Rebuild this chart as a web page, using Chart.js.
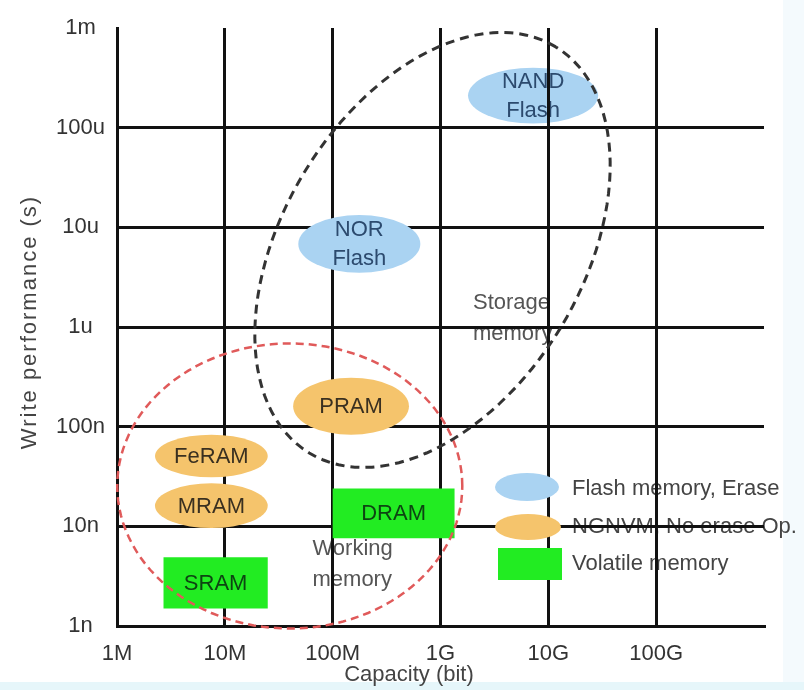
<!DOCTYPE html>
<html>
<head>
<meta charset="utf-8">
<script src="https://cdn.jsdelivr.net/npm/chart.js@4.4.1/dist/chart.umd.min.js"></script>
<style>
  html, body { margin: 0; padding: 0; background: #fff; }
</style>
</head>
<body>
<canvas id="c" width="804" height="690"></canvas>
<script>
const xTicks = [1e6, 1e7, 1e8, 1e9, 1e10, 1e11];
const xTickLabels = ['1M', '10M', '100M', '1G', '10G', '100G'];
const yTicks = [1e-9, 1e-8, 1e-7, 1e-6, 1e-5, 1e-4, 1e-3];
const yTickLabels = ['1n', '10n', '100n', '1u', '10u', '100u', '1m'];

// memory types: capacity range (bit) and write time range (s)
const memNames = ['NAND\nFlash', 'NOR\nFlash', 'PRAM', 'FeRAM', 'MRAM', 'DRAM', 'SRAM'];
const memKind = ['flash', 'flash', 'ngnvm', 'ngnvm', 'ngnvm', 'volatile', 'volatile'];
const capLo = [1.8e9, 4.8e7, 4.3e7, 2.25e6, 2.25e6, 1e8, 2.7e6];
const capHi = [2.9e10, 6.5e8, 5.1e8, 2.5e7, 2.5e7, 1.35e9, 2.5e7];
const timeLo = [1.1e-4, 3.5e-6, 8.3e-8, 3.1e-8, 9.6e-9, 7.6e-9, 1.5e-9];
const timeHi = [4.0e-4, 1.33e-5, 3.1e-7, 8.3e-8, 2.7e-8, 2.4e-8, 4.9e-9];

const kindLabels = ['Flash memory, Erase', 'NGNVM, No erase Op.', 'Volatile memory'];

// dashed regions: centre and two conjugate semi axes, in decades (x, y)
const regionNames = ['Working\nmemory', 'Storage\nmemory'];
const regionCap = [4.0e7, 8.43e8];
const regionTime = [2.54e-8, 5.93e-6];
const regionAx = [1.6, 1.143];
const regionAy = [0, 2.037];
const regionBx = [0, -1.187];
const regionBy = [1.43, 0.7825];
const regionLabelCap = [6.5e7, 2.0e9];
const regionLabelTime = [4.1e-9, 1.23e-6];

const FONT = '22px "Liberation Sans", Arial, sans-serif';
const fills = { flash: '#aad3f2', ngnvm: '#f5c46c', volatile: '#22ec22' };
const inks = { flash: '#2c4a6e', ngnvm: '#3a3020', volatile: '#0d4512' };
const regionColors = ['#e05a5a', '#333'];

function drawShape(ctx, kind, cx, cy, rx, ry) {
  ctx.fillStyle = fills[kind];
  ctx.beginPath();
  if (kind == 'volatile') ctx.rect(cx - rx, cy - ry, rx * 2, ry * 2);
  else ctx.ellipse(cx, cy, rx, ry, 0, 0, Math.PI * 2);
  ctx.fill();
}

function drawLines(ctx, text, x, y, lh) {
  let lines = text.split('\n');
  lines.forEach((l, i) => ctx.fillText(l, x, y + (i - (lines.length - 1) / 2) * lh));
}

function drawMem(chart, i) {
  const ctx = chart.ctx, xs = chart.scales.x, ys = chart.scales.y;
  let x0 = xs.getPixelForValue(capLo[i]), x1 = xs.getPixelForValue(capHi[i]);
  let y0 = ys.getPixelForValue(timeLo[i]), y1 = ys.getPixelForValue(timeHi[i]);
  let cx = (x0 + x1) / 2, cy = (y0 + y1) / 2;
  drawShape(ctx, memKind[i], cx, cy, (x1 - x0) / 2, (y0 - y1) / 2);
  ctx.fillStyle = inks[memKind[i]];
  ctx.font = FONT;
  ctx.textAlign = 'center';
  ctx.textBaseline = 'middle';
  drawLines(ctx, memNames[i], cx, cy + 1, 29);
}

const memoryPlugin = {
  id: 'memory',
  beforeDraw(chart) {
    const ctx = chart.ctx, xs = chart.scales.x, ys = chart.scales.y, a = chart.chartArea;
    ctx.save();
    ctx.fillStyle = '#fff';
    ctx.fillRect(0, 0, chart.width, chart.height);
    ctx.fillStyle = '#f4fafd';
    ctx.fillRect(783, 0, chart.width - 783, chart.height);
    ctx.fillStyle = '#e6f6fa';
    ctx.fillRect(0, 682, chart.width, chart.height - 682);
    // region names and legend text sit under the grid
    ctx.font = FONT;
    ctx.textAlign = 'left';
    ctx.textBaseline = 'middle';
    ctx.fillStyle = '#555';
    regionNames.forEach((n, i) => {
      drawLines(ctx, n, xs.getPixelForValue(regionLabelCap[i]), ys.getPixelForValue(regionLabelTime[i]), 31);
    });
    ctx.fillStyle = '#444';
    kindLabels.forEach((l, i) => ctx.fillText(l, a.left + 455, a.top + 461 + i * 37.5));
    drawMem(chart, 0);
    ctx.restore();
  },
  afterDatasetsDraw(chart) {
    const ctx = chart.ctx, xs = chart.scales.x, ys = chart.scales.y, a = chart.chartArea;
    ctx.save();
    for (let i = 1; i < memNames.length; i++) drawMem(chart, i);
    // legend swatches
    drawShape(ctx, 'flash', a.left + 410, a.top + 459, 32, 14);
    drawShape(ctx, 'ngnvm', a.left + 411, a.top + 499, 33, 13);
    drawShape(ctx, 'volatile', a.left + 413, a.top + 536, 32, 16);
    // dashed regions
    regionNames.forEach((n, i) => {
      let lx = Math.log10(regionCap[i]), ly = Math.log10(regionTime[i]);
      ctx.beginPath();
      for (let k = 0; k <= 120; k++) {
        let t = k / 120 * Math.PI * 2, c = Math.cos(t), s = Math.sin(t);
        let px = xs.getPixelForValue(Math.pow(10, lx + c * regionAx[i] + s * regionBx[i]));
        let py = ys.getPixelForValue(Math.pow(10, ly + c * regionAy[i] + s * regionBy[i]));
        if (k == 0) ctx.moveTo(px, py); else ctx.lineTo(px, py);
      }
      ctx.strokeStyle = regionColors[i];
      ctx.lineWidth = i == 0 ? 2.5 : 3;
      ctx.setLineDash(i == 0 ? [8, 5] : [9, 6]);
      ctx.stroke();
    });
    ctx.restore();
  },
  afterDraw(chart) {
    const ctx = chart.ctx;
    ctx.save();
    ctx.font = FONT;
    ctx.fillStyle = '#444';
    ctx.textAlign = 'center';
    ctx.textBaseline = 'middle';
    ctx.fillText('Capacity (bit)', 409, 675);
    ctx.translate(30, 322);
    ctx.rotate(-Math.PI / 2);
    ctx.letterSpacing = '2px';
    ctx.fillText('Write performance (s)', 0, 0);
    ctx.restore();
  }
};

const gridOpts = {
  color: ctx => (ctx.tick && ctx.tick.value == 1e-3) ? 'rgba(0,0,0,0)' : '#111',
  lineWidth: 3,
  drawTicks: false
};

new Chart(document.getElementById('c'), {
  type: 'scatter',
  data: { datasets: [{ data: [] }] },
  plugins: [memoryPlugin],
  options: {
    responsive: false,
    animation: false,
    layout: { padding: { left: 0, right: 40, top: 28, bottom: 0 } },
    plugins: { legend: { display: false }, tooltip: { enabled: false } },
    scales: {
      x: {
        type: 'logarithmic',
        min: 1e6,
        max: 1e12,
        afterBuildTicks: s => { s.ticks = xTicks.map(v => ({ value: v })); },
        afterFit: s => { s.height = 64; },
        grid: gridOpts,
        border: { display: true, color: '#111', width: 3 },
        ticks: {
          font: { size: 22, family: '"Liberation Sans", Arial, sans-serif' },
          color: '#333',
          padding: 15,
          maxRotation: 0,
          autoSkip: false,
          callback: v => xTickLabels[xTicks.indexOf(v)]
        }
      },
      y: {
        type: 'logarithmic',
        min: 1e-9,
        max: 1e-3,
        afterBuildTicks: s => { s.ticks = yTicks.map(v => ({ value: v })); },
        afterFit: s => { s.width = 117; },
        grid: gridOpts,
        border: { display: true, color: '#111', width: 3 },
        ticks: {
          font: { size: 22, family: '"Liberation Sans", Arial, sans-serif' },
          color: '#333',
          padding: 12,
          crossAlign: 'center',
          autoSkip: false,
          callback: v => yTickLabels[yTicks.indexOf(v)]
        }
      }
    }
  }
});
</script>
</body>
</html>
